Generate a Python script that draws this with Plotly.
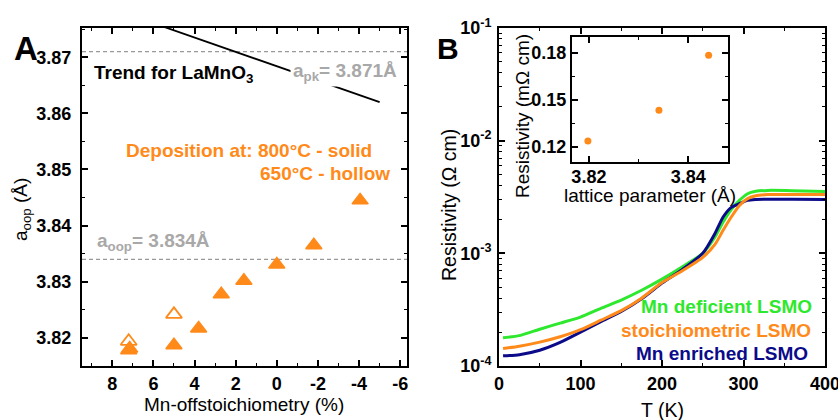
import plotly.graph_objects as go

# ---------------- data: panel A ----------------
mn_off_solid = [7.2, 7.15, 5.0, 3.8, 2.7, 1.6, 0.0, -1.8, -4.05]
aoop_solid = [3.8178, 3.8181, 3.8187, 3.8217, 3.8278, 3.8302, 3.8331, 3.8365, 3.8445]
mn_off_hollow = [7.2, 5.0]
aoop_hollow = [3.8194, 3.8242]
trend_x = [6.5, -5.0]
trend_y = [3.8767, 3.8620]
a_pk = 3.871
a_oop_ref = 3.834
xA_ticks = [8, 6, 4, 2, 0, -2, -4, -6]
xA_ticktext = ["8", "6", "4", "2", "0", "-2", "-4", "-6"]
yA_ticks = [3.82, 3.83, 3.84, 3.85, 3.86, 3.87]
yA_ticktext = ["3.82", "3.83", "3.84", "3.85", "3.86", "3.87"]

# ---------------- data: panel B ----------------
T = [5, 25, 50, 75, 100, 125, 150, 175, 200, 225, 250, 265, 275, 285, 295, 305, 315, 330, 360, 400]
rho_deficient = [1.78e-4, 1.86e-4, 2.12e-4, 2.4e-4, 2.72e-4, 3.25e-4, 3.85e-4, 4.7e-4, 5.9e-4, 7.6e-4,
                 1.0e-3, 1.4e-3, 1.9e-3, 2.45e-3, 2.95e-3, 3.38e-3, 3.55e-3, 3.62e-3, 3.6e-3, 3.53e-3]
rho_stoich = [1.43e-4, 1.5e-4, 1.63e-4, 1.82e-4, 2.1e-4, 2.55e-4, 3.1e-4, 4.0e-4, 5.5e-4, 7.0e-4,
              9.2e-4, 1.2e-3, 1.6e-3, 2.1e-3, 2.66e-3, 3.06e-3, 3.25e-3, 3.32e-3, 3.33e-3, 3.32e-3]
rho_enriched = [1.23e-4, 1.26e-4, 1.38e-4, 1.62e-4, 2.0e-4, 2.48e-4, 3.05e-4, 3.95e-4, 5.45e-4, 7.2e-4,
                1.0e-3, 1.5e-3, 2.1e-3, 2.56e-3, 2.76e-3, 2.95e-3, 3.0e-3, 3.02e-3, 3.02e-3, 3.01e-3]
xB_ticks = [0, 100, 200, 300, 400]
yB_ticks = [1e-4, 1e-3, 1e-2, 1e-1]
yB_ticktext = ["10<sup>-4</sup>", "10<sup>-3</sup>", "10<sup>-2</sup>", "10<sup>-1</sup>"]

# ---------------- data: inset ----------------
lattice = [3.8198, 3.8341, 3.8441]
rho_inset = [0.1238, 0.1434, 0.1783]
xI_ticks = [3.82, 3.84]
yI_ticks = [0.12, 0.15, 0.18]
yI_ticktext = ["0.12", "0.15", "0.18"]

# ---------------- styling ----------------
W, H = 838, 420
FONT = "Arial, Liberation Sans, sans-serif"
ORANGE = "#ff8a1a"
GREEN = "#2ee82e"
NAVY = "#0b0b8a"
GRAY = "#a8a8a8"


def px(x):
    return x / W


def py(y):
    return 1 - y / H


fig = go.Figure()

fig.add_trace(go.Scatter(x=trend_x, y=trend_y, mode="lines", line=dict(color="black", width=1.8),
                         xaxis="x", yaxis="y", showlegend=False))
fig.add_trace(go.Scatter(x=mn_off_solid, y=aoop_solid, mode="markers",
                         marker=dict(symbol="triangle-up", size=14, color=ORANGE,
                                     line=dict(color=ORANGE, width=1.5)),
                         xaxis="x", yaxis="y", showlegend=False))
fig.add_trace(go.Scatter(x=mn_off_hollow, y=aoop_hollow, mode="markers",
                         marker=dict(symbol="triangle-up-open", size=14, color=ORANGE,
                                     line=dict(color=ORANGE, width=1.8)),
                         xaxis="x", yaxis="y", showlegend=False))

for rho, col in [(rho_deficient, GREEN), (rho_enriched, NAVY), (rho_stoich, ORANGE)]:
    fig.add_trace(go.Scatter(x=T, y=rho, mode="lines", line=dict(color=col, width=3, shape="spline", smoothing=0.6),
                             xaxis="x2", yaxis="y2", showlegend=False))

fig.add_trace(go.Scatter(x=lattice, y=rho_inset, mode="markers",
                         marker=dict(symbol="circle", size=7, color=ORANGE),
                         xaxis="x3", yaxis="y3", showlegend=False))

tickfont = dict(family=FONT, size=18, color="black", weight="bold")
common = dict(showline=True, linewidth=2, linecolor="black", mirror="allticks", ticks="inside",
              ticklen=6, tickwidth=1.5, tickcolor="black", showgrid=False, zeroline=False,
              tickfont=tickfont, ticklabeloverflow="allow")
minor_style = dict(ticks="inside", ticklen=3, tickwidth=1.2, tickcolor="black")

fig.update_layout(
    width=W, height=H, margin=dict(l=0, r=0, t=0, b=0, autoexpand=False),
    paper_bgcolor="white", plot_bgcolor="white",
    xaxis=dict(domain=[px(82), px(407)], anchor="y", range=[9.47, -6.33], autorange=False,
               tickmode="array", tickvals=xA_ticks, ticktext=xA_ticktext,
               minor=dict(dtick=1, tick0=0, **minor_style), **common),
    yaxis=dict(domain=[py(366), py(28)], anchor="x", range=[3.815, 3.8752],
               tickmode="array", tickvals=yA_ticks, ticktext=yA_ticktext, ticklabelstandoff=5,
               minor=dict(dtick=0.005, tick0=3.815, **minor_style), **common),
    xaxis2=dict(domain=[px(499), px(825)], anchor="y2", range=[0, 400],
                tickmode="array", tickvals=xB_ticks,
                minor=dict(dtick=50, tick0=0, **minor_style), **common),
    yaxis2=dict(domain=[py(366), py(28)], anchor="x2", type="log", range=[-4, -1],
                tickmode="array", tickvals=yB_ticks, ticktext=yB_ticktext, ticklabelstandoff=2,
                minor=dict(dtick="D1", **minor_style), **common),
    xaxis3=dict(domain=[px(572), px(728)], anchor="y3", range=[3.8166, 3.848],
                tickmode="array", tickvals=xI_ticks, ticklabelstandoff=-3,
                minor=dict(dtick=0.01, tick0=3.82, **minor_style), **common),
    yaxis3=dict(domain=[py(162), py(37)], anchor="x3", range=[0.1104, 0.190],
                tickmode="array", tickvals=yI_ticks, ticktext=yI_ticktext,
                minor=dict(dtick=0.015, tick0=0.12, **minor_style), **common),
)

# reference dashed lines
for val in (a_pk, a_oop_ref):
    fig.add_shape(type="line", xref="x domain", yref="y", x0=0, x1=1, y0=val, y1=val,
                  line=dict(color="#999999", width=1.3, dash="4px,3px"), layer="below")


def ann(text, x, y, size=19, color="black", bold=True, xanchor="center", yanchor="middle", angle=0, bg=None):
    d = dict(text=text, xref="paper", yref="paper", x=px(x), y=py(y), showarrow=False,
             xanchor=xanchor, yanchor=yanchor, textangle=angle,
             font=dict(family=FONT, size=size, color=color, weight="bold" if bold else "normal"))
    if bg:
        d["bgcolor"] = bg
        d["borderpad"] = 2
    fig.add_annotation(**d)


ann("A", 26, 48, size=33)
ann("B", 448, 48, size=30)
ann("Trend for LaMnO<sub>3</sub>", 92, 74, xanchor="left")
ann(f"a<sub>pk</sub>= {a_pk:.3f}Å", 290, 72, color=GRAY, xanchor="left", bg="white")
ann("Deposition at: 800°C - solid", 374, 150, color=ORANGE, xanchor="right")
ann("650°C - hollow", 392, 173, color=ORANGE, xanchor="right")
ann(f"a<sub>oop</sub>= {a_oop_ref:.3f}Å", 95, 242, color=GRAY, xanchor="left")
ann("a<sub>oop</sub> (Å)", 22, 210, size=19, bold=False, angle=-90)
ann("Mn-offstoichiometry (%)", 244, 404, size=19, bold=False)

ann("Resistivity (Ω cm)", 449, 205, size=19.5, bold=False, angle=-90)
ann("T (K)", 662, 410, size=19.5, bold=False)
ann("Resistivity (mΩ cm)", 522, 116, size=19, bold=False, angle=-90)
ann("lattice parameter (Å)", 650, 195, size=19, bold=False)

ann("Mn deficient LSMO", 814, 306, color=GREEN, xanchor="right")
ann("stoichiometric LSMO", 813, 330, color=ORANGE, xanchor="right")
ann("Mn enriched LSMO", 810, 353, color=NAVY, xanchor="right")

fig.write_html("out.html", config={"displayModeBar": False},
               post_script="document.body.style.margin='0';document.body.style.padding='0';")
